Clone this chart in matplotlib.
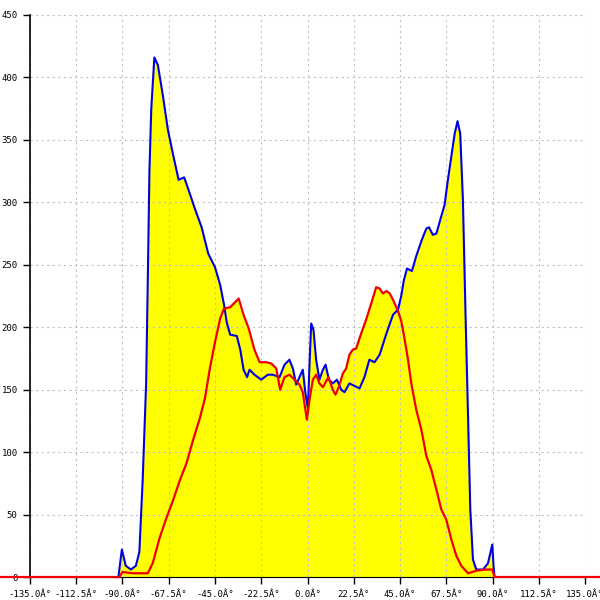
import matplotlib
matplotlib.use("Agg")
import matplotlib.pyplot as plt
import numpy as np

# blue series (angle in degrees, count)
blue_x = [-92, -90.3, -88.4, -85.9, -83.5, -81.8, -80.2, -78.5, -77.7, -76.9, -76, -74.5,
          -72.8, -70.4, -67.9, -65.5, -62.7, -60, -58.1, -54.8, -51.5, -48.3, -45, -42.5,
          -40.6, -39.3, -37.6, -34.4, -32.7, -31.1, -29.4, -28.2, -25.8, -22.5, -19.3,
          -16.9, -13.6, -11.2, -8.8, -7.1, -5.5, -3.9, -2.3, -1, 0.2, 1, 1.8, 2.9, 4.2,
          5.8, 7.5, 8.8, 10.4, 12.3, 14.3, 16.4, 18, 20.4, 22.9, 25.3, 27.7, 30.1, 32.6,
          35.1, 38.4, 41.6, 44, 45.6, 46.8, 48.4, 50.8, 52.9, 55.4, 57.8, 59.1, 61, 62.7,
          65.1, 66.7, 68.3, 70, 71.6, 73, 74.3, 75.6, 76.9, 78.1, 79.2, 80.5, 82.1, 85.4,
          87.8, 89.9, 90.5, 91]
blue_y = [0, 22, 9, 6, 9, 20, 77, 155, 237, 325, 375, 416,
          410, 386, 358, 339, 318, 320, 311, 295, 280, 259, 248, 234,
          218, 204, 194, 193, 182, 166, 160, 166, 162, 158, 162,
          162, 160, 170, 174, 167, 154, 160, 166, 147, 135, 171, 203, 198, 174,
          158, 166, 170, 158, 155, 158, 150, 148, 155, 153, 151, 160, 174, 172,
          178, 195, 210, 214, 225, 237, 247, 245, 257, 269, 279, 280, 274, 275,
          289, 298, 318, 337, 355, 365, 355, 302, 209, 129, 54, 14, 6, 6,
          11, 26, 9, 0]

# red series
red_x = [-180, -91.6, -90, -85, -77.7, -75.3, -72, -68.7, -65.5, -62.2, -58.9, -55.6,
         -52.4, -49.9, -47.4, -45, -42.5, -40.6, -37.6, -33.5, -31.1, -28.6, -25.8,
         -23.3, -20.1, -17.7, -15.2, -13.3, -11.2, -8.8, -6.3, -3.9, -2.3, -0.3, 1,
         2.6, 4.2, 5.8, 7.5, 10.2, 12.3, 13.6, 15.2, 17.2, 18.8, 20.4, 22, 23.7, 26.1,
         28.5, 31, 33.4, 35.1, 36.7, 38.4, 40, 41.6, 44, 45.6, 47.3, 48.9, 50.5, 52.9,
         55.4, 57.8, 60.2, 62.7, 65.1, 67.5, 70, 72.4, 74.8, 78.1, 82.1, 87, 89.9, 91, 180]
red_y = [0, 0, 4, 3, 3, 11, 31, 47, 61, 77, 91, 110,
         127, 143, 168, 188, 207, 215, 216, 223, 210, 199, 182,
         172, 172, 171, 167, 150, 160, 162, 158, 154, 148, 126, 142,
         158, 162, 155, 152, 160, 150, 146, 152, 163, 167, 178, 182, 183, 195,
         206, 219, 232, 231, 227, 229, 227, 222, 213, 205, 190, 174, 155, 134,
         118, 97, 86, 70, 54, 46, 30, 17, 9, 3, 5, 6, 6, 0, 0]

x_ticks = np.arange(-135, 135.1, 22.5)
y_ticks = np.arange(0, 451, 50)

fig = plt.figure(figsize=(6, 6), dpi=100)
ax = fig.add_axes([0.05, 0.0383, 0.925, 0.9367])

ax.fill_between(blue_x, 0, blue_y, color='#ffff00', linewidth=0, zorder=1)
ax.fill_between(red_x, 0, red_y, color='#ffff00', linewidth=0, zorder=1)
ax.plot(blue_x, blue_y, color='#0000e6', linewidth=1.5, zorder=2)
ax.plot(red_x, red_y, color='#ee0000', linewidth=1.6, zorder=3, clip_on=False)

ax.set_xlim(-135, 135)
ax.set_ylim(0, 450)
ax.set_xticks(x_ticks)
ax.set_xticklabels([f"{v:.1f}Â°" for v in x_ticks])
ax.set_yticks(y_ticks)
ax.set_yticklabels([str(v) for v in y_ticks])
ax.tick_params(labelsize=6.5, length=5, width=1, pad=4)
for lab in ax.get_xticklabels() + ax.get_yticklabels():
    lab.set_family('DejaVu Sans Mono')

ax.spines['top'].set_visible(False)
ax.spines['right'].set_visible(False)
ax.spines['left'].set_linewidth(1.2)
ax.set_axisbelow('line')
ax.grid(True, color='#c0c0c0', linestyle=(0, (2, 3)), linewidth=0.8)

fig.savefig('out.png', dpi=100)
